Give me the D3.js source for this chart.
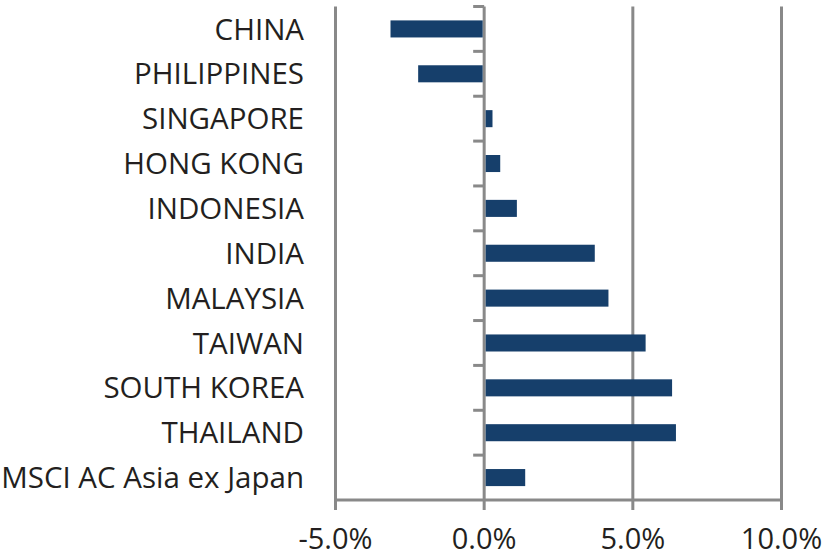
<!DOCTYPE html>
<html>
<head>
<meta charset="utf-8">
<script src="https://cdn.jsdelivr.net/npm/d3@7"></script>
<style>
  html, body { margin: 0; padding: 0; background: #ffffff; }
  svg { display: block; }
</style>
</head>
<body>
<svg id="chart" width="825" height="557"></svg>
<script>
const categories = ["CHINA", "PHILIPPINES", "SINGAPORE", "HONG KONG", "INDONESIA", "INDIA",
  "MALAYSIA", "TAIWAN", "SOUTH KOREA", "THAILAND", "MSCI AC Asia ex Japan"];
const values = [-3.15, -2.22, 0.28, 0.54, 1.1, 3.72, 4.18, 5.43, 6.32, 6.45, 1.38];
const xTicks = [-5, 0, 5, 10];
const xTickLabels = ["-5.0%", "0.0%", "5.0%", "10.0%"];

const svg = d3.select("#chart");
const gridColor = "#898989";
const barColor = "#163f6b";
const textColor = "#231f20";
const font = "'Open Sans', sans-serif";

const x = d3.scaleLinear().domain([-5, 10]).range([335.5, 781.5]);
const y = d3.scaleBand().domain(categories).range([6.5, 500]).paddingInner(0.62).paddingOuter(0.31);
const yTop = 6.5, yBottom = 500;

// vertical gridlines (including ticks below axis)
svg.append("g").selectAll("line").data(xTicks).join("line")
  .attr("x1", d => x(d)).attr("x2", d => x(d))
  .attr("y1", yTop).attr("y2", yBottom + 10)
  .attr("stroke", gridColor).attr("stroke-width", 3);

// bottom axis line
svg.append("line")
  .attr("x1", x(-5) - 1.5).attr("x2", x(10) + 1.5)
  .attr("y1", yBottom).attr("y2", yBottom)
  .attr("stroke", gridColor).attr("stroke-width", 3);

// category ticks on zero line
const step = y.step();
const boundaries = d3.range(categories.length).map(i => yTop + i * step);
svg.append("g").selectAll("line").data(boundaries).join("line")
  .attr("x1", x(0) - 11).attr("x2", x(0))
  .attr("y1", d => d).attr("y2", d => d)
  .attr("stroke", gridColor).attr("stroke-width", 3);

// bars
svg.append("g").selectAll("rect").data(categories).join("rect")
  .attr("x", (d, i) => values[i] < 0 ? x(values[i]) : x(0) + 1.5)
  .attr("width", (d, i) => values[i] < 0 ? x(0) - 1.5 - x(values[i]) : x(values[i]) - x(0) - 1.5)
  .attr("y", d => y(d))
  .attr("height", y.bandwidth())
  .attr("fill", barColor);

// category labels
svg.append("g").selectAll("text").data(categories).join("text")
  .attr("x", 304)
  .attr("y", d => y(d) + y.bandwidth() / 2)
  .attr("dy", "0.36em")
  .attr("text-anchor", "end")
  .attr("font-family", font)
  .attr("font-size", 29.5)
  .attr("fill", textColor)
  .text(d => d);

// x tick labels
svg.append("g").selectAll("text").data(xTicks).join("text")
  .attr("x", d => x(d))
  .attr("y", 549)
  .attr("text-anchor", "middle")
  .attr("font-family", font)
  .attr("font-size", 29)
  .attr("fill", textColor)
  .text((d, i) => xTickLabels[i]);
</script>
</body>
</html>
